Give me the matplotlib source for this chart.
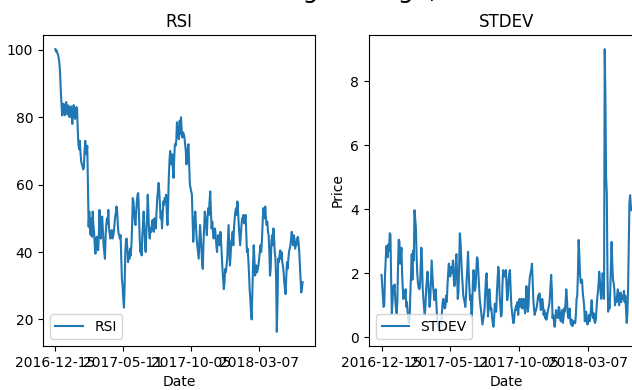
import numpy as np
import matplotlib
matplotlib.use("Agg")
import matplotlib.pyplot as plt

# 날짜 눈금 (100 거래일 간격)
tick_dates = ["2016-12-15", "2017-05-11", "2017-10-05", "2018-03-07"]
tick_step = 100

# RSI 값
rsi = [
    100.2, 99.5, 99.8, 99.0, 98.6, 97.5, 96.0, 93.0, 88.0, 84.0,
    80.5, 82.0, 84.0, 81.5, 80.6, 83.0, 84.5, 82.0, 80.8, 83.5,
    82.0, 80.0, 81.5, 83.2, 81.0, 78.0, 82.0, 83.6, 81.0, 79.5,
    81.5, 83.0, 82.5, 76.0, 72.0, 70.5, 73.0, 69.5, 67.0, 66.0,
    65.5, 64.5, 65.0, 70.0, 73.0, 71.0, 69.0, 71.5, 60.0, 47.5,
    52.0, 47.0, 45.0, 50.0, 44.5, 52.0, 48.0, 46.0, 42.0, 39.5,
    43.0, 44.5, 41.0, 40.5, 45.0, 52.5, 47.0, 44.0, 49.0, 50.5,
    46.0, 42.0, 40.0, 38.0, 45.0, 48.0, 50.0, 48.5, 52.5, 47.0,
    45.5, 44.0, 45.0, 46.5, 44.0, 44.5, 46.0, 48.0, 50.5, 51.5,
    53.5, 52.0, 48.0, 45.5, 45.0, 44.0, 45.0, 38.0, 32.0, 30.0,
    26.0, 23.5, 30.0, 40.0, 43.5, 44.0, 41.0, 37.0, 40.0, 38.0,
    41.0, 39.0, 42.0, 48.0, 56.0, 55.0, 52.0, 49.0, 48.0, 52.0,
    55.0, 57.0, 57.5, 52.0, 45.0, 40.0, 42.0, 39.0, 45.0, 48.0,
    52.0, 47.0, 42.0, 40.0, 46.0, 50.0, 57.0, 52.0, 46.0, 44.0,
    47.0, 46.0, 48.0, 49.5, 47.0, 46.0, 50.0, 48.0, 47.0, 52.0,
    56.0, 58.0, 60.5, 58.0, 54.0, 50.0, 52.0, 47.0, 51.0, 55.0,
    54.0, 56.0, 55.0, 57.0, 52.0, 48.0, 54.0, 62.0, 67.0, 70.0,
    68.0, 66.0, 69.0, 65.0, 62.0, 68.0, 72.0, 71.5, 73.0, 78.5,
    74.0, 77.0, 73.5, 79.0, 75.0, 80.0, 76.0, 74.0, 75.5, 75.0,
    74.0, 72.0, 70.0, 66.0, 69.0, 71.0, 72.0, 66.0, 60.0, 59.0,
    58.0, 57.0, 50.0, 43.0, 47.0, 50.0, 52.0, 48.0, 44.0, 42.0,
    40.0, 38.0, 43.0, 48.0, 45.0, 41.0, 37.0, 35.0, 42.0, 47.0,
    52.0, 50.0, 48.0, 45.0, 50.0, 53.0, 51.0, 55.0, 58.0, 52.0,
    47.0, 49.0, 46.0, 44.0, 46.0, 47.0, 45.0, 42.0, 40.0, 43.0,
    45.0, 44.0, 42.0, 46.0, 43.0, 39.0, 35.0, 32.0, 29.0, 31.0,
    35.0, 34.0, 36.0, 38.0, 43.0, 48.0, 42.0, 36.0, 39.0, 43.0,
    44.0, 46.0, 42.0, 47.0, 50.0, 52.0, 53.0, 51.0, 55.0, 52.0,
    48.0, 45.0, 42.0, 45.0, 48.0, 50.0, 49.0, 51.0, 48.5, 49.0,
    51.0, 46.0, 40.0, 41.0, 38.0, 34.0, 29.0, 26.0, 22.0, 20.0,
    28.0, 36.0, 42.0, 38.0, 33.0, 34.0, 36.0, 34.0, 35.0, 36.0,
    38.0, 40.0, 42.0, 40.0, 43.0, 48.0, 53.0, 52.0, 50.0, 53.5,
    50.0, 48.0, 49.0, 46.0, 45.0, 40.0, 33.0, 35.0, 43.0, 45.0,
    42.0, 47.0, 44.0, 40.0, 38.0, 32.0, 16.3, 25.0, 38.0, 37.0,
    39.0, 40.5, 38.0, 40.0, 37.0, 36.0, 34.0, 31.0, 29.0, 27.5,
    33.0, 37.0, 35.0, 38.0, 40.0, 41.0, 42.0, 44.0, 46.0, 43.0,
    42.0, 45.0, 44.0, 41.0, 43.0, 42.0, 44.0, 44.5, 43.0, 40.0,
    36.0, 32.0, 28.0, 29.5, 31.0,
]

# 종가 표준편차 값
stdev = [
    1.95, 1.6, 1.2, 0.95, 1.0, 1.9, 2.4, 2.85, 2.6, 2.5,
    2.9, 2.7, 3.25, 3.2, 1.8, 0.75, 1.1, 1.6, 1.5, 1.65,
    1.2, 0.9, 0.75, 1.1, 2.2, 3.05, 3.0, 2.3, 2.5, 2.8,
    2.0, 1.5, 1.2, 1.45, 1.3, 1.5, 0.95, 1.1, 0.8, 0.55,
    0.45, 0.6, 1.4, 2.0, 2.6, 1.8, 2.7, 2.4, 3.97, 3.7,
    3.45, 2.6, 2.0, 1.7, 1.55, 1.5, 1.6, 2.2, 2.8, 2.3,
    1.5, 1.2, 0.9, 0.7, 1.0, 1.5, 1.8, 2.05, 1.7, 1.3,
    0.95, 1.2, 1.8, 2.4, 2.0, 1.6, 1.4, 1.16, 1.3, 1.5,
    1.0, 0.6, 0.4, 0.3, 0.5, 0.17, 0.45, 0.35, 0.8, 1.1,
    1.2, 1.0, 0.9, 0.95, 1.3, 1.1, 1.6, 2.0, 2.3, 2.1,
    1.9, 2.2, 2.0, 2.1, 2.4, 1.9, 1.6, 1.7, 2.3, 2.6,
    2.0, 1.2, 1.4, 2.2, 3.25, 3.0, 2.5, 2.0, 1.7, 1.3,
    1.2, 1.1, 0.95, 1.3, 1.8, 2.2, 2.67, 2.0, 1.5, 1.16,
    1.3, 0.65, 0.9, 1.7, 2.1, 1.8, 1.45, 1.6, 2.1, 2.5,
    2.45, 2.0, 1.6, 1.2, 1.0, 0.8, 0.6, 0.4, 0.55, 0.7,
    0.9, 1.4, 1.8, 2.0, 1.3, 0.65, 1.0, 1.5, 1.2, 0.85,
    0.9, 0.6, 0.45, 0.33, 0.6, 1.05, 0.9, 0.8, 1.4, 1.8,
    2.2, 2.0, 1.3, 0.95, 0.65, 0.7, 1.6, 2.1, 2.0, 1.9,
    1.9, 2.1, 1.6, 1.16, 1.3, 1.8, 2.0, 2.1, 1.5, 1.0,
    0.8, 0.6, 0.44, 0.55, 0.8, 0.9, 1.0, 0.85, 1.1, 0.7,
    1.1, 1.2, 0.95, 1.0, 1.2, 0.9, 1.1, 1.2, 1.0, 0.75,
    1.1, 1.6, 1.1, 0.8, 1.0, 1.6, 1.9, 2.0, 2.1, 2.3,
    1.8, 1.2, 0.9, 0.7, 0.8, 0.85, 0.95, 1.1, 1.3, 1.2,
    1.37, 1.1, 0.85, 0.95, 1.2, 1.05, 0.7, 0.85, 0.6, 0.75,
    0.55, 0.65, 0.8, 0.9, 1.0, 1.2, 1.6, 1.95, 1.5, 0.6,
    0.7, 0.5, 0.33, 0.5, 0.85, 0.65, 0.8, 0.6, 0.95, 0.9,
    0.6, 0.5, 0.7, 0.85, 0.45, 0.6, 0.9, 0.8, 1.1, 1.5,
    1.2, 0.75, 0.6, 0.65, 0.9, 0.5, 0.4, 0.55, 0.35, 0.5,
    0.45, 0.5, 0.44, 0.7, 1.2, 1.3, 2.0, 3.04, 2.6, 2.0,
    1.7, 1.75, 1.8, 1.4, 1.2, 1.0, 0.5, 0.75, 0.8, 0.5,
    0.4, 0.55, 0.7, 0.5, 0.6, 0.9, 1.16, 0.8, 0.6, 0.75,
    0.5, 0.45, 0.55, 0.9, 1.2, 1.4, 1.65, 2.05, 1.8, 1.4,
    1.2, 1.5, 2.0, 1.6, 1.2, 9.0, 7.5, 5.0, 4.5, 2.0,
    0.8, 1.1, 0.9, 1.4, 2.2, 2.98, 2.3, 1.8, 1.7, 1.5,
    1.0, 1.2, 1.1, 1.3, 1.5, 1.25, 1.0, 1.2, 1.4, 1.1,
    1.3, 1.25, 1.2, 1.45, 1.1, 1.3, 0.9, 0.45, 0.75, 1.5,
    2.8, 4.2, 4.44, 4.1, 3.97,
]

fig = plt.figure(figsize=(6.32, 3.9), dpi=100)

# 전체 제목 (위쪽이 잘려 있음)
fig.text(0.361, 1.004, "Moving Average, RSI and STDEV", fontsize=18,
         ha="left", va="baseline")

ax1 = fig.add_axes([0.068, 0.1128, 0.4304, 0.7974])
ax2 = fig.add_axes([0.5839, 0.1128, 0.4351, 0.7974])

x = np.arange(len(rsi))
ticks = np.arange(len(tick_dates)) * tick_step

ax1.plot(x, rsi, label="RSI")
ax1.set_title("RSI")
ax1.set_xlabel("Date")
ax1.set_xticks(ticks)
ax1.set_xticklabels(tick_dates)
ax1.legend(loc="lower left")

ax2.plot(np.arange(len(stdev)), stdev, label="STDEV")
ax2.set_title("STDEV")
ax2.set_xlabel("Date")
ax2.set_ylabel("Price")
ax2.set_xticks(ticks)
ax2.set_xticklabels(tick_dates)
ax2.legend(loc="lower left")

fig.savefig("out.png", dpi=100)
